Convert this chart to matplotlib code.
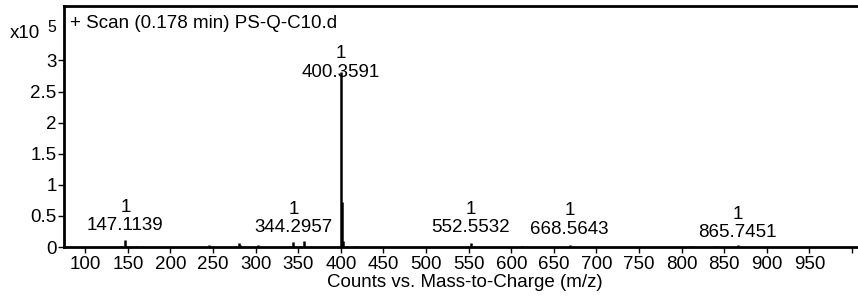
import matplotlib
matplotlib.use("Agg")
import matplotlib.pyplot as plt
from matplotlib.ticker import FuncFormatter

plt.rcParams['font.family'] = ['Liberation Sans', 'DejaVu Sans']

# Peak list (m/z, counts)
mz = [147.1139, 149.1, 159.1, 217.1, 227.1, 245.1, 280.2, 282.2, 302.3,
      344.2957, 356.3, 400.3591, 401.36, 402.36, 417.3, 473.3, 552.5532,
      554.5, 612.5, 668.5643, 765.6, 812.6, 838.7, 865.7451]
counts = [12000, 1500, 1000, 500, 500, 4000, 6500, 3000, 3000,
          8000, 9000, 281000, 72000, 10000, 1000, 700, 6000,
          1500, 2000, 4000, 800, 1000, 1000, 3000]

# Labelled peaks
label_mz = [147.1139, 344.2957, 400.3591, 552.5532, 668.5643, 865.7451]
label_counts = [12000, 8000, 281000, 6000, 4000, 3000]
label_text = ["147.1139", "344.2957", "400.3591", "552.5532", "668.5643", "865.7451"]
label_charge = ["1", "1", "1", "1", "1", "1"]
label_offset = [4, 4, -6, 5, 5, 3]   # points above peak top

title = "+ Scan (0.178 min) PS-Q-C10.d"
xlabel = "Counts vs. Mass-to-Charge (m/z)"
xticks = list(range(100, 1001, 50))
xticklabels = [str(t) if t < 1000 else "" for t in xticks]
yticks = [0, 50000, 100000, 150000, 200000, 250000, 300000]

FS = 13.5

fig = plt.figure(figsize=(8.58, 2.96), dpi=100)
ax = fig.add_axes([63.5 / 858, 1 - 247 / 296, 1 - 63.5 / 858 + 0.01, (247 - 6) / 296])

ax.vlines(mz, 0, counts, colors='black', linewidth=1.8)

for x, y, t, c, off in zip(label_mz, label_counts, label_text, label_charge, label_offset):
    ax.annotate(c + "\n" + t, xy=(x, y), xytext=(0, off), textcoords='offset points',
                ha='center', va='bottom', multialignment='center',
                fontsize=FS, linespacing=1.1, zorder=1)

ax.set_xlim(74.5, 1017)
ax.set_ylim(0, 387600)
ax.set_xticks(xticks)
ax.set_xticklabels(xticklabels)
ax.set_yticks(yticks)
ax.yaxis.set_major_formatter(FuncFormatter(lambda v, p: "%g" % (v / 1e5)))

for s in ['left', 'bottom', 'top']:
    ax.spines[s].set_linewidth(2.0)
ax.spines['right'].set_visible(False)

ax.tick_params(axis='both', direction='out', length=4, width=1, labelsize=FS, pad=1)
ax.tick_params(axis='x', pad=2.5)
ax.set_xlabel(xlabel, fontsize=FS, labelpad=0.5)

fig.text(70 / 858, 1 - 23 / 296, title, fontsize=FS, ha='left', va='center')
fig.text(10 / 858, 1 - 33 / 296, "x10", fontsize=FS, ha='left', va='center')
fig.text(47 / 858, 1 - 28 / 296, "5", fontsize=FS * 0.85, ha='left', va='center')

fig.savefig("out.png", dpi=100)
